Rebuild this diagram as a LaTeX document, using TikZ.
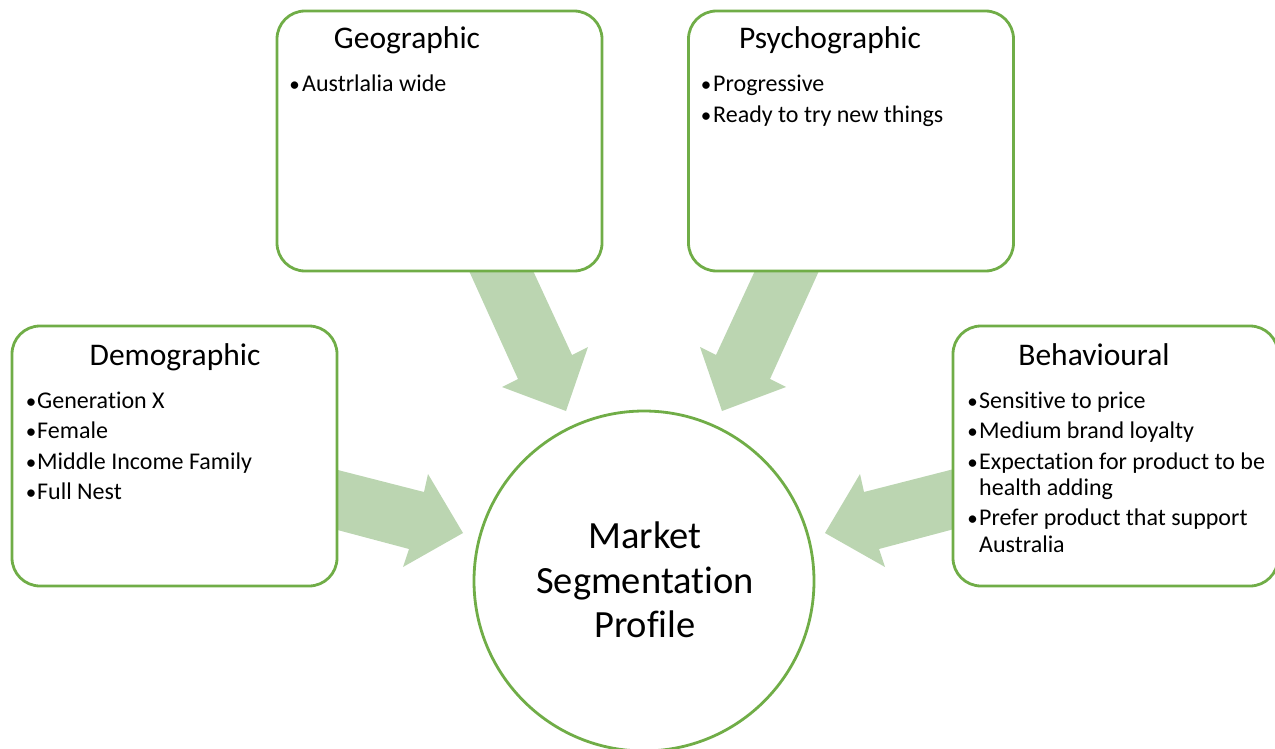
\documentclass[tikz,border=0pt]{standalone}
\usepackage{fontspec}
\setmainfont[Ligatures={NoCommon,NoRare}]{Carlito}
\definecolor{edge}{RGB}{112,173,71}
\definecolor{arrowfill}{RGB}{187,213,177}
% keeps two letters apart as separate glyphs
\newcommand\sep{\kern0pt{}}

\begin{document}
\begin{tikzpicture}[x=1pt,y=-1pt,
  card/.style={draw=edge, line width=2.8pt, fill=white, rounded corners=28pt,
    minimum width=325pt, minimum height=260pt, inner sep=0pt},
  hub/.style={circle, draw=edge, line width=2.8pt, fill=white,
    minimum size=340pt, inner sep=0pt},
  heading/.style={anchor=base, inner sep=0pt, font=\fontsize{31.5}{36}\selectfont},
  dot/.style={anchor=base, inner sep=0pt, font=\fontsize{21}{29}\selectfont},
  itemtext/.style={anchor=base west, inner sep=0pt, font=\fontsize{24}{29}\selectfont},
  hubtext/.style={anchor=base, inner sep=0pt, font=\fontsize{38.5}{44}\selectfont},
  flow/.style={fill=arrowfill, draw=none}]

\useasboundingbox (0,0) rectangle (1275,749);
\clip (0,0) rectangle (1275,749);

% block arrows pointing at the centre, drawn first so the cards cover their tails
\fill[flow] (465,262) -- (529,262) -- (572,355) -- (588,347) -- (566,411)
  -- (502,387) -- (518,379) -- cycle;
\fill[flow] (823,262) -- (759,262) -- (716,355) -- (700,347) -- (722,411)
  -- (786,387) -- (770,379) -- cycle;
\fill[flow] (330,468) -- (424,492) -- (428,474) -- (463,533) -- (403,567)
  -- (409,549) -- (330,528) -- cycle;
\fill[flow] (958,468) -- (864,492) -- (860,474) -- (825,533) -- (885,567)
  -- (879,549) -- (958,528) -- cycle;

% the four segment cards
\node[card] (geo) at (439.5,141) {};
\node[card] (psy) at (851,141) {};
\node[card] (demo) at (174.5,456) {};
\node[card] (beh) at (1115.5,456) {};

% centre circle
\node[hub] (hub) at (644,581) {};
\node[hubtext] (hubA) at (645,548) {Market};
\node[hubtext] (hubB) at (645,593) {Segmentat\sep ion};
\node[hubtext] (hubC) at (645,637) {Prof\sep ile};

% Geographic
\node[heading] (geoT) at (407,49) {Geographic};
\node[dot] (geoD1) at (294.5,92) {•};
\node[itemtext] (geoI1) at (302,92) {Austrlalia wide};

% Psychographic
\node[heading] (psyT) at (830,49) {Psychographic};
\node[dot] (psyD1) at (706,92) {•};
\node[itemtext] (psyI1) at (713,92) {Progressive};
\node[dot] (psyD2) at (706,123) {•};
\node[itemtext] (psyI2) at (713,123) {Ready to try new things};

% Demographic
\node[heading] (demoT) at (175,365) {Demographic};
\node[dot] (demoD1) at (31,408) {•};
\node[itemtext] (demoI1) at (37,408) {Generat\sep ion X};
\node[dot] (demoD2) at (31,438) {•};
\node[itemtext] (demoI2) at (37,438) {Female};
\node[dot] (demoD3) at (31,469) {•};
\node[itemtext] (demoI3) at (37,469) {Middle Income Family};
\node[dot] (demoD4) at (31,499) {•};
\node[itemtext] (demoI4) at (37,499) {Full Nest};

% Behavioural
\node[heading] (behT) at (1094,365) {Behavioural};
\node[dot] (behD1) at (972.5,408) {•};
\node[itemtext] (behI1) at (979,408) {Sensit\sep ive to price};
\node[dot] (behD2) at (972.5,438) {•};
\node[itemtext] (behI2) at (979,438) {Medium brand loyalty};
\node[dot] (behD3) at (972.5,469) {•};
\node[itemtext] (behI3) at (979,469) {Expectat\sep ion for product to be};
\node[itemtext] (behI3b) at (979,495) {health adding};
\node[dot] (behD4) at (972.5,525) {•};
\node[itemtext] (behI4) at (979,525) {Prefer product that support};
\node[itemtext] (behI4b) at (979,552) {Australia};
\end{tikzpicture}
\end{document}
